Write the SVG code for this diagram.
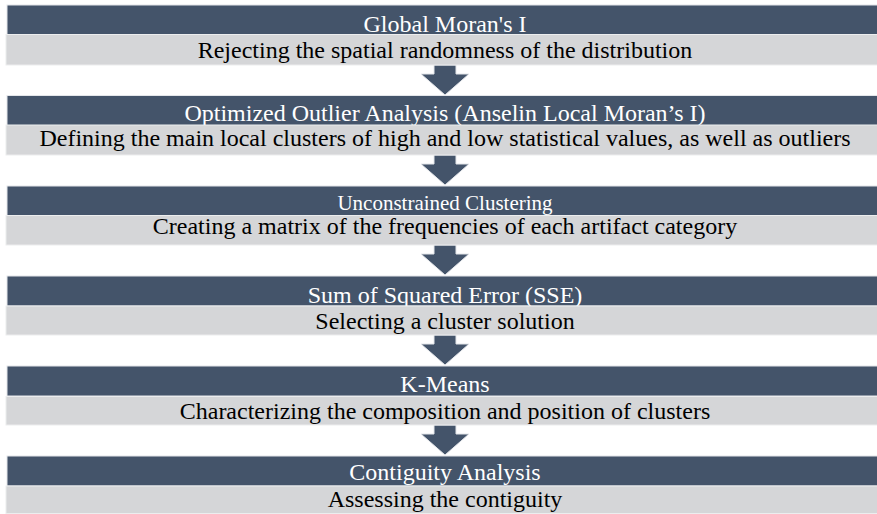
<svg xmlns="http://www.w3.org/2000/svg" width="877" height="514" viewBox="0 0 877 514">
<style>
.hd{fill:#44546A;stroke:#E4E6EA;stroke-width:1}
.bd{fill:#D5D6D8;stroke:#ECEDEE;stroke-width:1}
.ht{font-family:"Liberation Serif","Times New Roman",serif;font-size:24px;fill:#FFFFFF;text-anchor:middle}
.bt{font-family:"Liberation Serif","Times New Roman",serif;font-size:24px;fill:#000000;text-anchor:middle}
.ar{fill:#44546A;stroke:#E4E6EA;stroke-width:1}
</style>
<rect width="877" height="514" fill="#FFFFFF"/>
<g id="connectors">
<polygon class="ar" points="434,65 456,65 456,74 469,74 445,95 421,74 434,74"/>
<polygon class="ar" points="434,155 456,155 456,164 469,164 445,185 421,164 434,164"/>
<polygon class="ar" points="434,245 456,245 456,254 469,254 445,275 421,254 434,254"/>
<polygon class="ar" points="434,335 456,335 456,344 469,344 445,365 421,344 434,344"/>
<polygon class="ar" points="434,425 456,425 456,434 469,434 445,455 421,434 434,434"/>
</g>
<g id="stage1">
<rect class="hd" x="7" y="5" width="880" height="30"/>
<text class="ht" x="445" y="32">Global Moran's I</text>
<rect class="bd" x="6" y="34.5" width="880" height="30.5"/>
<text class="bt" x="445" y="58">Rejecting the spatial randomness of the distribution</text>
</g>
<g id="stage2">
<rect class="hd" x="7" y="95.5" width="880" height="30"/>
<text class="ht" x="445" y="121">Optimized Outlier Analysis (Anselin Local Moran’s I)</text>
<rect class="bd" x="6" y="125" width="880" height="30"/>
<text class="bt" x="445" y="146">Defining the main local clusters of high and low statistical values, as well as outliers</text>
</g>
<g id="stage3">
<rect class="hd" x="7" y="186" width="880" height="30"/>
<text class="ht" x="445" y="210" style="font-size:21px">Unconstrained Clustering</text>
<rect class="bd" x="6" y="215.5" width="880" height="29.5"/>
<text class="bt" x="445" y="234">Creating a matrix of the frequencies of each artifact category</text>
</g>
<g id="stage4">
<rect class="hd" x="7" y="276" width="880" height="30"/>
<text class="ht" x="445" y="303">Sum of Squared Error (SSE)</text>
<rect class="bd" x="6" y="306" width="880" height="29"/>
<text class="bt" x="445" y="329">Selecting a cluster solution</text>
</g>
<g id="stage5">
<rect class="hd" x="7" y="366" width="880" height="30"/>
<text class="ht" x="445" y="392">K-Means</text>
<rect class="bd" x="6" y="396.5" width="880" height="28.5"/>
<text class="bt" x="445" y="419">Characterizing the composition and position of clusters</text>
</g>
<g id="stage6">
<rect class="hd" x="7" y="456" width="880" height="30"/>
<text class="ht" x="445" y="480">Contiguity Analysis</text>
<rect class="bd" x="6" y="486" width="880" height="27.5"/>
<text class="bt" x="445" y="507">Assessing the contiguity</text>
</g>
</svg>
